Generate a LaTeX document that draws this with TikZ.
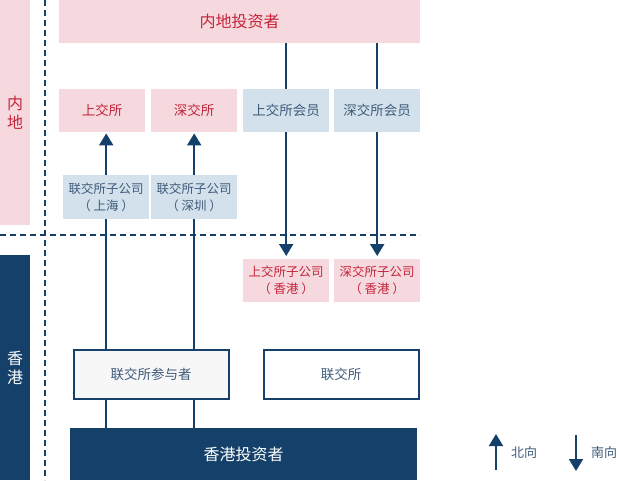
\documentclass[tikz,border=0pt]{standalone}
\usepackage{fontspec}
\setmainfont{Noto Sans CJK SC}
\usetikzlibrary{arrows.meta,backgrounds}
\definecolor{pinkbg}{HTML}{F6D9DE}
\definecolor{redtxt}{HTML}{C4243A}
\definecolor{bluebg}{HTML}{D2E1EB}
\definecolor{bluetxt}{HTML}{3F5B7B}
\definecolor{navy}{HTML}{15406A}
\tikzset{
  box/.style={rectangle,inner sep=0pt,align=center,anchor=north west},
  pinkbox/.style={box,fill=pinkbg,text=redtxt},
  bluebox/.style={box,fill=bluebg,text=bluetxt},
  arr/.style={draw=navy,line width=2pt,-{Triangle[width=14pt,length=12pt]}},
  ln/.style={draw=navy,line width=2pt},
  dash line/.style={draw=navy,line width=2pt,dash pattern=on 6pt off 4pt},
}
\begin{document}
\begin{tikzpicture}[x=1pt,y=-1pt]
\useasboundingbox (0,0) rectangle (619,480);
% side bands
\node[pinkbox,minimum width=30pt,minimum height=225pt,font=\fontsize{16}{19}\selectfont] (ml) at (0,0) {内\\地};
\node[box,fill=navy,text=white,minimum width=30pt,minimum height=225pt,font=\fontsize{16}{19}\selectfont] (hk) at (0,255) {香\\港};
% top
\node[pinkbox,minimum width=361pt,minimum height=43pt,font=\fontsize{16}{19}\selectfont] (mlinv) at (59,0) {内地投资者};
\node[pinkbox,minimum width=86pt,minimum height=43pt,font=\fontsize{13.5}{16}\selectfont] (sse) at (59,89) {上交所};
\node[pinkbox,minimum width=86pt,minimum height=43pt,font=\fontsize{13.5}{16}\selectfont] (szse) at (151,89) {深交所};
\node[bluebox,minimum width=86pt,minimum height=43pt,font=\fontsize{13.5}{16}\selectfont] (ssemem) at (243,89) {上交所会员};
\node[bluebox,minimum width=86pt,minimum height=43pt,font=\fontsize{13.5}{16}\selectfont] (szsemem) at (334,89) {深交所会员};
\node[bluebox,minimum width=86pt,minimum height=44pt,font=\fontsize{12.5}{17}\selectfont] (subsh) at (63,175) {联交所子公司\\（ 上海 ）};
\node[bluebox,minimum width=86pt,minimum height=44pt,font=\fontsize{12.5}{17}\selectfont] (subsz) at (151,175) {联交所子公司\\（ 深圳 ）};
\node[pinkbox,minimum width=86pt,minimum height=43pt,font=\fontsize{12.5}{17}\selectfont] (ssehk) at (243,259) {上交所子公司\\（ 香港 ）};
\node[pinkbox,minimum width=86pt,minimum height=43pt,font=\fontsize{12.5}{17}\selectfont] (szsehk) at (334,259) {深交所子公司\\（ 香港 ）};
\node[box,draw=navy,line width=2pt,fill=black!3,text=bluetxt,minimum width=155pt,minimum height=49pt,font=\fontsize{13.5}{16}\selectfont] (part) at (72.5,349) {联交所参与者};
\node[box,draw=navy,line width=2pt,fill=white,text=bluetxt,minimum width=155pt,minimum height=49pt,font=\fontsize{13.5}{16}\selectfont] (hkex) at (262.5,349) {联交所};
\node[box,fill=navy,text=white,minimum width=347pt,minimum height=52pt,font=\fontsize{16}{19}\selectfont] (hkinv) at (70,428) {香港投资者};
% legend
\coordinate (nb1) at (496,470);
\coordinate (nb2) at (496,434);
\coordinate (sb1) at (576,435);
\coordinate (sb2) at (576,471);
\node[text=bluetxt,font=\fontsize{13}{16}\selectfont,anchor=west,inner sep=0pt] (nbt) at (511,453) {北向};
\node[text=bluetxt,font=\fontsize{13}{16}\selectfont,anchor=west,inner sep=0pt] (sbt) at (591,453) {南向};
\coordinate (dv1) at (45,0);
\coordinate (dv2) at (45,480);
\coordinate (dh1) at (0,235);
\coordinate (dh2) at (420,235);
\begin{scope}[on background layer]
\draw[dash line] (dv1) -- (dv2);
\draw[dash line] (dh1) -- (dh2);
\draw[arr,shorten >=1pt] (hkinv.north -| subsh.south) -- (sse.south -| subsh.south);
\draw[arr,shorten >=1pt] (hkinv.north -| subsz.south) -- (szse.south -| subsz.south);
\draw[arr,shorten >=3pt] (mlinv.south -| ssemem.south) -- (ssehk.north);
\draw[arr,shorten >=3pt] (mlinv.south -| szsemem.south) -- (szsehk.north);
\end{scope}
\draw[arr] (nb1) -- (nb2);
\draw[arr] (sb1) -- (sb2);
\end{tikzpicture}
\end{document}
